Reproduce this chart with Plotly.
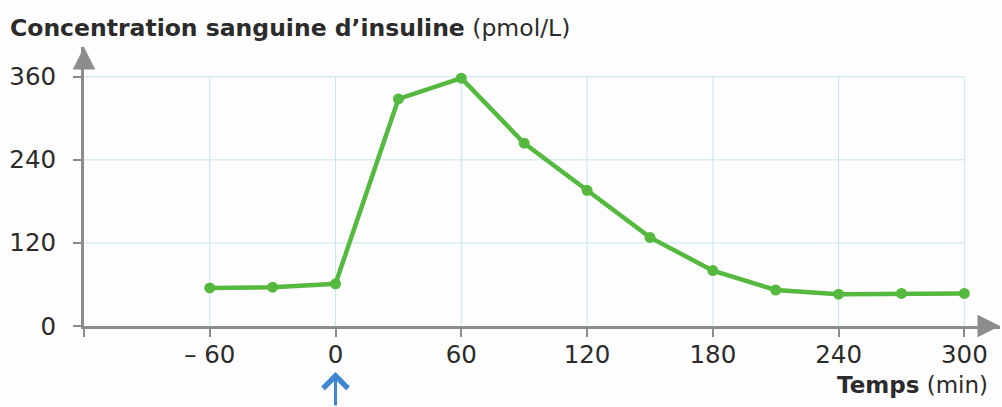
import plotly.graph_objects as go

# Data
temps_min = [-60, -30, 0, 30, 60, 90, 120, 150, 180, 210, 240, 270, 300]
insuline_pmol = [55, 56, 61, 328, 358, 264, 196, 128, 80, 52, 46, 47, 47]

x_tickvals = [-120, -60, 0, 60, 120, 180, 240, 300]
x_ticktext = ["", "– 60", "0", "60", "120", "180", "240", "300"]
y_tickvals = [0, 120, 240, 360]
y_ticktext = ["0", "120", "240", "360"]

title_bold = "Concentration sanguine d’insuline"
title_unit = "(pmol/L)"
xlabel_bold = "Temps"
xlabel_unit = "(min)"

FONT = "DejaVu Sans"
AXIS_GRAY = "#8c8c8c"
GRID_BLUE = "#c4e6ef"
GREEN = "#55b83f"
TEXT = "#2b2b2b"

fig = go.Figure()

fig.add_trace(go.Scatter(
    x=temps_min, y=insuline_pmol,
    mode="lines+markers",
    line=dict(color=GREEN, width=4.5),
    marker=dict(color=GREEN, size=11),
    cliponaxis=False,
    showlegend=False,
    hoverinfo="x+y",
))

shapes = []
# Vertical grid lines (stop at 360)
for v in x_tickvals[1:]:
    shapes.append(dict(type="line", xref="x", yref="y", x0=v, x1=v, y0=0, y1=360,
                       line=dict(color=GRID_BLUE, width=1), layer="below"))
# Horizontal grid lines (stop at 300)
for v in y_tickvals[1:]:
    shapes.append(dict(type="line", xref="x", yref="y", x0=-120, x1=300, y0=v, y1=v,
                       line=dict(color=GRID_BLUE, width=1), layer="below"))

annotations = [
    # x axis arrow head
    dict(x=1, y=0, xref="paper", yref="paper", ax=-20, ay=0, text="",
         showarrow=True, arrowhead=2, arrowsize=1.5, arrowwidth=3, arrowcolor=AXIS_GRAY),
    # y axis arrow head
    dict(x=0, y=1, xref="paper", yref="paper", ax=0, ay=20, text="",
         showarrow=True, arrowhead=2, arrowsize=1.5, arrowwidth=3, arrowcolor=AXIS_GRAY),
    # blue arrow under t = 0
    dict(x=0, y=-0.165, xref="x", yref="paper", ax=0, ay=45, text="",
         showarrow=True, arrowhead=4, arrowsize=1.6, arrowwidth=3, arrowcolor="#3f86cf"),
    # x axis label
    dict(x=(990-84)/916, y=-(385-326)/279, xref="paper", yref="paper", xanchor="right", yanchor="middle",
         text=f"<b>{xlabel_bold}</b> {xlabel_unit}", showarrow=False,
         font=dict(family=FONT, size=23, color=TEXT)),
    # title
    dict(x=-76/916, y=(326-28)/279, xref="paper", yref="paper", xanchor="left", yanchor="middle",
         text=f"<b>{title_bold}</b> {title_unit}", showarrow=False,
         font=dict(family=FONT, size=23.5, color=TEXT)),
]

fig.update_layout(
    width=1002, height=407,
    margin=dict(l=84, r=2, t=47, b=81),
    paper_bgcolor="#fdfdfd",
    plot_bgcolor="rgba(0,0,0,0)",
    xaxis=dict(range=[-120, 317], tickvals=x_tickvals, ticktext=x_ticktext,
               showgrid=False, zeroline=False, showline=True, linecolor=AXIS_GRAY, linewidth=3,
               ticks="outside", ticklen=8, tickwidth=2, tickcolor=AXIS_GRAY,
               tickfont=dict(family=FONT, size=24.5, color=TEXT), ticklabelstandoff=-3),
    yaxis=dict(range=[0, 403], tickvals=y_tickvals, ticktext=y_ticktext,
               showgrid=False, zeroline=False, showline=True, linecolor=AXIS_GRAY, linewidth=3,
               ticks="outside", ticklen=8, tickwidth=2, tickcolor=AXIS_GRAY,
               tickfont=dict(family=FONT, size=24.5, color=TEXT), ticklabelstandoff=12),
    shapes=shapes,
    annotations=annotations,
    font=dict(family=FONT, color=TEXT),
)

fig.write_html("out.html", config={"displayModeBar": False},
               post_script="document.body.style.margin='0';")
